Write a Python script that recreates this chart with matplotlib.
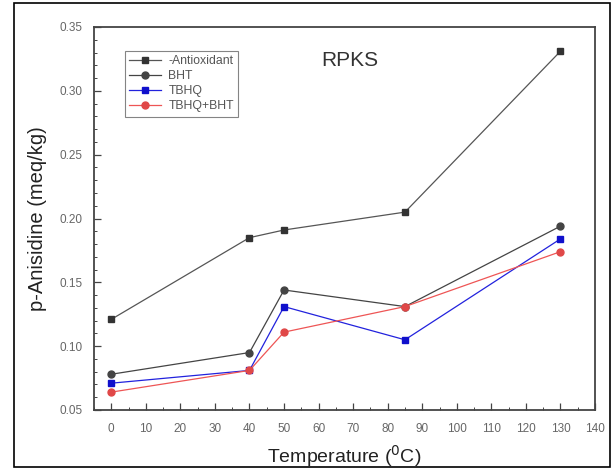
import matplotlib
matplotlib.use("Agg")
import matplotlib.pyplot as plt
from matplotlib.patches import Rectangle
from matplotlib.ticker import MultipleLocator

temps = [0, 40, 50, 85, 130]
no_antiox = [0.121, 0.185, 0.191, 0.205, 0.331]
bht = [0.078, 0.095, 0.144, 0.131, 0.194]
tbhq = [0.071, 0.081, 0.131, 0.105, 0.184]
tbhq_bht = [0.064, 0.081, 0.111, 0.131, 0.174]
labels = ["-Antioxidant", "BHT", "TBHQ", "TBHQ+BHT"]

plt.rcParams['font.family'] = ['Liberation Sans', 'DejaVu Sans']

fig = plt.figure(figsize=(6.14, 4.70), dpi=100)
fig.patches.append(Rectangle((14/614, 3/470), 596/614, 464/470, transform=fig.transFigure,
                             fill=False, edgecolor='black', linewidth=1.2))
ax = fig.add_axes([94/614, 1-410/470, (595-94)/614, (410-27)/470])

ax.plot(temps, no_antiox, color='#555555', lw=0.9, marker='s', ms=4.5, mfc='#333333', mec='#333333', label=labels[0])
ax.plot(temps, bht, color='#444444', lw=0.9, marker='o', ms=5, mfc='#444444', mec='#444444', label=labels[1])
ax.plot(temps, tbhq, color='#2222dd', lw=0.9, marker='s', ms=4.5, mfc='#1010cc', mec='#1010cc', label=labels[2])
ax.plot(temps, tbhq_bht, color='#ee5555', lw=0.9, marker='o', ms=5, mfc='#e04848', mec='#e04848', label=labels[3])

ax.set_xlim(-5, 140)
ax.set_ylim(0.05, 0.35)
ax.xaxis.set_major_locator(MultipleLocator(10))
ax.xaxis.set_minor_locator(MultipleLocator(5))
ax.yaxis.set_major_locator(MultipleLocator(0.05))
ax.yaxis.set_minor_locator(MultipleLocator(0.01))
ax.yaxis.set_major_formatter(matplotlib.ticker.FormatStrFormatter('%.2f'))
ax.tick_params(which='both', direction='in', top=False, right=False, labelsize=8.5, labelcolor='#666666', color='#444444')
ax.tick_params(axis='x', which='major', length=5, width=0.9, pad=9)
ax.tick_params(axis='y', which='major', length=5, width=0.9, pad=8)
ax.tick_params(which='minor', length=2.5, width=0.7)
for s in ax.spines.values():
    s.set_color('#444444')
    s.set_linewidth(1.3)

ax.set_xlabel('Temperature ($^{0}$C)', fontsize=14, color='#222222', labelpad=6)
ax.set_ylabel('p-Anisidine (meq/kg)', fontsize=14.5, color='#222222', labelpad=9)
ax.text(0.511, 0.912, 'RPKS', transform=ax.transAxes, fontsize=15, color='#333333', ha='center', va='center')

leg = ax.legend(loc='upper left', bbox_to_anchor=(31/501, 1-24/383), fontsize=8.8, frameon=True, fancybox=False,
                edgecolor='#666666', handlelength=2.6, borderpad=0.35, labelspacing=0.25, handletextpad=0.6,
                borderaxespad=0)
leg.get_frame().set_linewidth(0.8)
for t in leg.get_texts():
    t.set_color('#555555')

fig.savefig('out.png', dpi=100)
